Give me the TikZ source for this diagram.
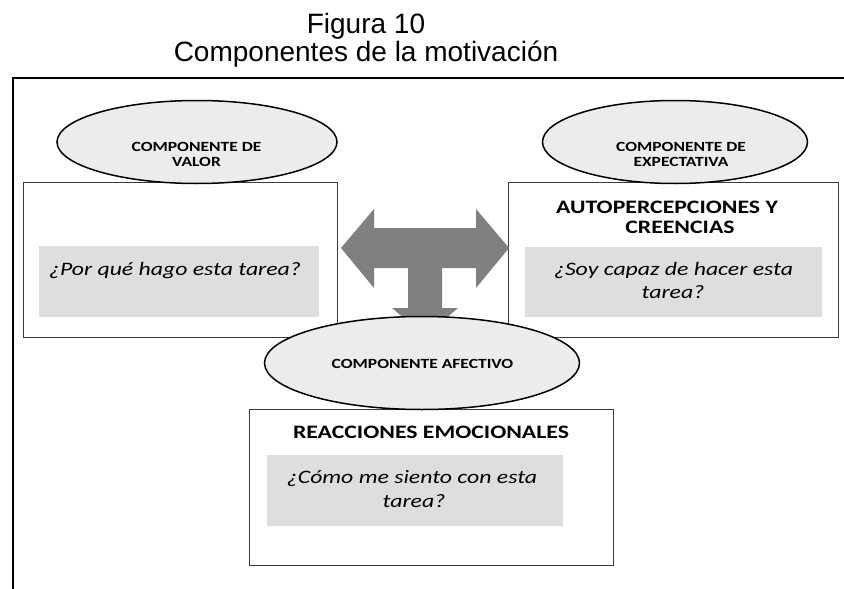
\documentclass[tikz,border=0pt]{standalone}
\usepackage{fontspec}
\setmainfont{Carlito}
\newfontfamily\arialf{Liberation Sans}
\usepackage{graphicx}
\usetikzlibrary{shapes.geometric}
\definecolor{ellfill}{HTML}{ECECEC}
\definecolor{innerfill}{HTML}{DEDEDE}
\definecolor{arrowgray}{HTML}{808080}
\definecolor{boxline}{HTML}{3A3A3A}
\newcommand{\wtext}[1]{\scalebox{1.25}[1]{#1}}
\tikzset{
  titletext/.style={font=\arialf\fontsize{28}{27}\selectfont, anchor=base, inner sep=0pt},
  ellshape/.style={ellipse, draw=black, line width=1.5pt, fill=ellfill, inner sep=0pt},
  outerbox/.style={rectangle, draw=boxline, line width=1pt, fill=white, inner sep=0pt},
  innerbox/.style={rectangle, fill=innerfill, inner sep=0pt},
  elltext/.style={font=\bfseries\fontsize{14}{15}\selectfont, anchor=base, inner sep=0pt},
  headtext/.style={font=\bfseries\fontsize{19}{21}\selectfont, anchor=base, inner sep=0pt},
  questext/.style={font=\itshape\fontsize{19}{23}\selectfont, anchor=base, inner sep=0pt},
}
\begin{document}
\begin{tikzpicture}[x=1pt,y=-1pt]
\useasboundingbox (0,0) rectangle (844,589);
\fill[white] (0,0) rectangle (844,589);
% title
\node[titletext] (title) at (366,33) {\begin{tabular}[t]{@{}c@{}}Figura 10\\Componentes de la motivación\end{tabular}};
% frame
\draw[line width=2pt] (844,77.5) -| (13,589);
% boxes
\node[outerbox, minimum width=314pt, minimum height=155pt] (lbox) at (180,259.5) {};
\node[innerbox, minimum width=280pt, minimum height=71pt] (lin) at (179,281.5) {};
\node[outerbox, minimum width=330pt, minimum height=155pt] (rbox) at (673,259.5) {};
\node[innerbox, minimum width=297pt, minimum height=70pt] (rin) at (673.5,282) {};
\node[outerbox, minimum width=364pt, minimum height=156pt] (bbox) at (431,487) {};
\node[innerbox, minimum width=296pt, minimum height=71pt] (bin) at (415,490.5) {};
% T-shaped arrow
\fill[arrowgray] (341,248) -- (374,209) -- (374,228) -- (476,228) -- (476,209) -- (509,248)
  -- (476,288) -- (476,268) -- (442,268) -- (442,308) -- (458,308) -- (425,336)
  -- (392,308) -- (408,308) -- (408,268) -- (374,268) -- (374,288) -- cycle;
% ellipses
\node[ellshape, minimum width=280pt, minimum height=83pt] (lell) at (197,142) {};
\node[ellshape, minimum width=265pt, minimum height=83pt] (rell) at (675,142) {};
\node[ellshape, minimum width=315pt, minimum height=93pt] (bell) at (422,363) {};
% ellipse texts
\node[elltext] (le1) at (196.5,151) {\wtext{COMPONENTE DE}};
\node[elltext] (le2) at (196.5,166) {\wtext{VALOR}};
\node[elltext] (re1) at (681,151) {\wtext{COMPONENTE DE}};
\node[elltext] (re2) at (681,166) {\wtext{EXPECTATIVA}};
\node[elltext] (be1) at (422.5,368) {\wtext{COMPONENTE AFECTIVO}};
% headings
\node[headtext] (rh1) at (667,213) {\wtext{AUTOPERCEPCIONES Y}};
\node[headtext] (rh2) at (680,233) {\wtext{CREENCIAS}};
\node[headtext] (bh1) at (431,438) {\wtext{REACCIONES EMOCIONALES}};
% questions
\node[questext] (lq) at (175,275) {\wtext{¿Por qué hago esta tarea?}};
\node[questext] (rq1) at (673.5,275) {\wtext{¿Soy capaz de hacer esta}};
\node[questext] (rq2) at (673,298) {\wtext{tarea?}};
\node[questext] (bq1) at (412,483) {\wtext{¿Cómo me siento con esta}};
\node[questext] (bq2) at (414,507) {\wtext{tarea?}};
\end{tikzpicture}
\end{document}
